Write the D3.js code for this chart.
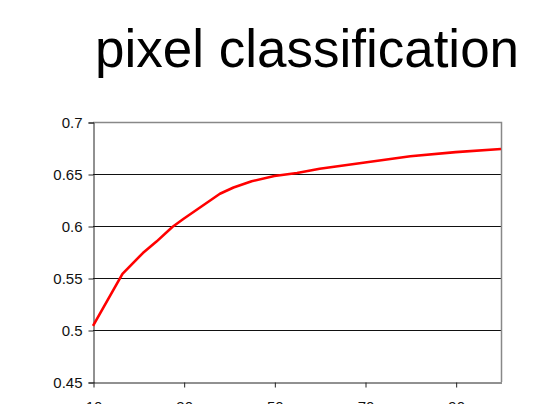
<!DOCTYPE html>
<html><head><meta charset="utf-8">
<script src="https://cdn.jsdelivr.net/npm/d3@7"></script>
<style>
html,body{margin:0;padding:0;background:#fff;}
svg{display:block;font-family:"Liberation Sans",Arial,sans-serif;}
</style></head><body>
<svg id="c" width="549" height="404"></svg>
<script>
const title = "pixel classification";
const xValues = [10, 16.5, 21, 24, 27.5, 30, 34, 38, 41, 45, 50, 55, 60, 70, 80, 90, 100];
const accuracy = [0.504, 0.554, 0.574, 0.585, 0.599, 0.607, 0.619, 0.631, 0.637, 0.643, 0.648, 0.651, 0.655, 0.661, 0.667, 0.671, 0.674];
const xTicks = [10, 30, 50, 70, 90];
const yTicks = [0.45, 0.5, 0.55, 0.6, 0.65, 0.7];

const svg = d3.select("#c");
const m = {l: 93, r: 501, t: 122, b: 382};
const x = d3.scaleLinear().domain([10, 100]).range([m.l, m.r]);
const y = d3.scaleLinear().domain([0.45, 0.7]).range([m.b, m.t]);

svg.append("text").attr("x", 307).attr("y", 67).attr("text-anchor", "middle")
  .attr("font-size", 53).attr("fill", "#000").text(title);

// gridlines
svg.append("g").selectAll("line").data(yTicks.filter(d => d > 0.45 && d < 0.7)).join("line")
  .attr("x1", m.l).attr("x2", m.r)
  .attr("y1", d => Math.round(y(d)) + 0.5).attr("y2", d => Math.round(y(d)) + 0.5)
  .attr("stroke", "#111").attr("stroke-width", 1);

// top and right border
svg.append("path").attr("d", `M${m.l},${m.t + 0.5}H${m.r + 0.5}V${m.b}`)
  .attr("fill", "none").attr("stroke", "#888").attr("stroke-width", 1.5);

// axes
const yAxis = d3.axisLeft(y).tickValues(yTicks).tickSize(5).tickPadding(6)
  .tickFormat(d => String(+d.toFixed(2)));
const gy = svg.append("g").attr("transform", `translate(${m.l + 0.5},0.5)`).call(yAxis);
gy.select(".domain").attr("stroke", "#222");
gy.selectAll(".tick line").attr("stroke", "#222");
gy.selectAll("text").attr("font-size", 15).attr("fill", "#111")
  .attr("font-family", '"Liberation Sans",Arial,sans-serif');

const xAxis = d3.axisBottom(x).tickValues(xTicks).tickSize(5).tickPadding(14).tickSizeOuter(0);
const gx = svg.append("g").attr("transform", `translate(0.5,${m.b + 0.5})`).call(xAxis);
gx.select(".domain").attr("stroke", "#222");
gx.selectAll(".tick line").attr("stroke", "#222");
gx.selectAll("text").attr("font-size", 15).attr("fill", "#111")
  .attr("font-family", '"Liberation Sans",Arial,sans-serif');

// line
const line = d3.line().x((d, i) => x(xValues[i])).y(d => y(d));
svg.append("path").datum(accuracy).attr("d", line)
  .attr("fill", "none").attr("stroke", "#ff0000").attr("stroke-width", 2.6)
  .attr("stroke-linejoin", "round");
</script>
</body></html>
